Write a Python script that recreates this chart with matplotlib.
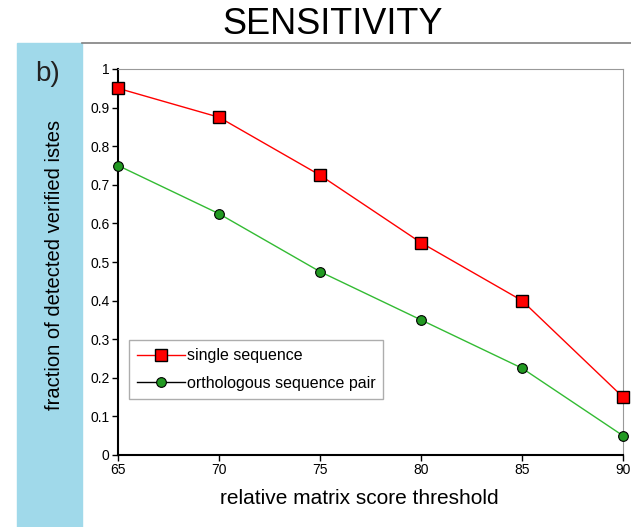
import matplotlib
matplotlib.use("Agg")
import matplotlib.pyplot as plt
from matplotlib.patches import Rectangle
from matplotlib.lines import Line2D

plt.rcParams['font.family'] = ['Liberation Sans', 'DejaVu Sans']

# data
thresholds = [65, 70, 75, 80, 85, 90]
single_seq = [0.95, 0.875, 0.725, 0.55, 0.40, 0.15]
ortho_pair = [0.75, 0.625, 0.475, 0.35, 0.225, 0.05]
yticks = [0, 0.1, 0.2, 0.3, 0.4, 0.5, 0.6, 0.7, 0.8, 0.9, 1]
ytick_labels = ['0', '0.1', '0.2', '0.3', '0.4', '0.5', '0.6', '0.7', '0.8', '0.9', '1']

fig = plt.figure(figsize=(6.31, 5.27), dpi=100)

# blue side panel and header rule
fig.patches.append(Rectangle((17 / 631, 0), 65 / 631, (527 - 43) / 527,
                             transform=fig.transFigure, color='#a0d9ea', zorder=0))
fig.add_artist(Line2D([82 / 631, 1], [(527 - 43) / 527] * 2, transform=fig.transFigure,
                      color='#808080', lw=1.2))
fig.text(333 / 631, 1 - 24 / 527, 'SENSITIVITY', ha='center', va='center', fontsize=26,
         family=['Liberation Sans Narrow', 'Liberation Sans'])
fig.text(48 / 631, 1 - 74 / 527, 'b)', ha='center', va='center', fontsize=20, color='#222222')

ax = fig.add_axes([118 / 631, 72 / 527, 505 / 631, 386 / 527])
ax.plot(thresholds, single_seq, color='red', lw=1, marker='s', ms=8,
        mfc='red', mec='black', mew=1, label='single sequence', clip_on=False, zorder=3)
ax.plot(thresholds, ortho_pair, color='#33bb33', lw=1, marker='o', ms=7,
        mfc='#229922', mec='black', mew=0.8, label='orthologous sequence pair',
        clip_on=False, zorder=3)

ax.set_xlim(65, 90)
ax.set_ylim(0, 1)
ax.set_xticks(thresholds)
ax.set_yticks(yticks)
ax.set_yticklabels(ytick_labels)
ax.tick_params(direction='out', length=4, width=1, labelsize=10, pad=2)
for s in ['top', 'right']:
    ax.spines[s].set_color('#999999')
for s in ['left', 'bottom']:
    ax.spines[s].set_linewidth(1.5)

fig.text(359 / 631, 1 - 498 / 527, 'relative matrix score threshold', ha='center',
         va='center', fontsize=15)
fig.text(55 / 631, 1 - 265 / 527, 'fraction of detected verified istes', rotation=90,
         ha='center', va='center', fontsize=14.5)

leg = ax.legend(loc='lower left', bbox_to_anchor=(0.022, 0.145), fontsize=11.5,
                frameon=True, fancybox=False, edgecolor='#999999', handlelength=3,
                handletextpad=0.1, borderpad=0.5, labelspacing=0.8,
                borderaxespad=0)
leg.get_frame().set_linewidth(1)
leg.legend_handles[1].set_color('black')
leg.legend_handles[1].set_markerfacecolor('#229922')

fig.savefig('out.png', dpi=100)
